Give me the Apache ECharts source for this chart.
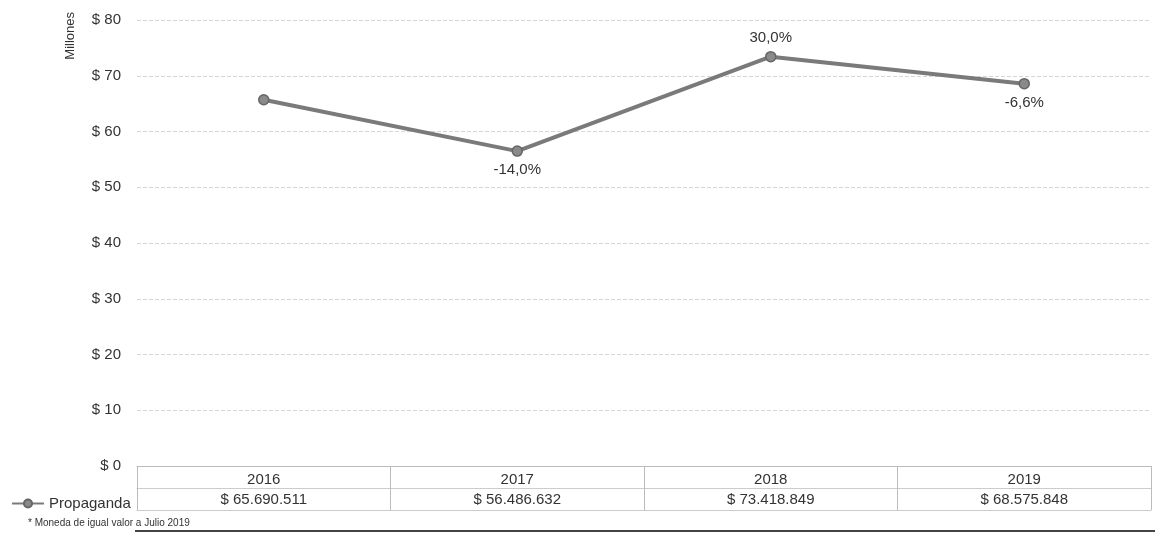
<!DOCTYPE html>
<html><head><meta charset="utf-8">
<script src="https://cdn.jsdelivr.net/npm/echarts@6/dist/echarts.min.js"></script>
<style>html,body{margin:0;padding:0;background:#fff}#c{width:1155px;height:535px}</style>
</head><body><div id="c"></div>
<script>
var categories = ['2016', '2017', '2018', '2019'];
var valuesMillions = [65.690511, 56.486632, 73.418849, 68.575848];
var valueTexts = ['$ 65.690.511', '$ 56.486.632', '$ 73.418.849', '$ 68.575.848'];
var changeLabels = ['', '-14,0%', '30,0%', '-6,6%'];
var labelPositions = ['bottom', 'bottom', 'top', 'bottom'];
var yTicks = [0, 10, 20, 30, 40, 50, 60, 70, 80];
var seriesName = 'Propaganda';
var footnote = '* Moneda de igual valor a Julio 2019';

var font = 'Liberation Sans, Arial, sans-serif';
var chart = echarts.init(document.getElementById('c'));
var data = valuesMillions.map(function (v, i) {
  return {
    value: v,
    label: { show: changeLabels[i] !== '', position: labelPositions[i], formatter: changeLabels[i] }
  };
});
chart.setOption({
  animation: false,
  textStyle: { fontFamily: font },
  grid: { left: 137, right: 4, top: 20, bottom: 69 },
  legend: {
    data: [seriesName], left: 6, top: 491, itemWidth: 32, itemHeight: 10, itemGap: 2,
    textStyle: { fontSize: 15, color: '#333', fontFamily: font }
  },
  xAxis: [
    {
      type: 'category', data: categories, position: 'bottom', boundaryGap: true,
      axisLine: { lineStyle: { color: '#bbb' } },
      axisTick: { show: true, length: 44, lineStyle: { color: '#bbb' } },
      axisLabel: { fontSize: 15, color: '#333', margin: 6 },
      splitLine: { show: false }
    },
    {
      type: 'category', data: valueTexts, position: 'bottom', offset: 22, boundaryGap: true,
      axisLine: { lineStyle: { color: '#ccc' } }, axisTick: { show: false },
      axisLabel: { fontSize: 15, color: '#333', margin: 4 }
    },
    {
      type: 'category', data: categories, position: 'bottom', offset: 44, boundaryGap: true,
      axisLine: { lineStyle: { color: '#ccc' } }, axisTick: { show: false },
      axisLabel: { show: false }
    }
  ],
  yAxis: {
    type: 'value', min: yTicks[0], max: yTicks[yTicks.length - 1], interval: 10,
    axisLine: { show: false }, axisTick: { show: false },
    axisLabel: { fontSize: 15, color: '#333', margin: 16, formatter: function (v) { return '$ ' + v; } },
    splitLine: { lineStyle: { color: '#d6d6d6', type: 'dashed' } }
  },
  graphic: [
    { type: 'text', left: 64, top: 12, rotation: Math.PI / 2,
      style: { text: 'Millones', fontSize: 13, fill: '#333', fontFamily: font } },
    { type: 'text', left: 28, top: 518,
      style: { text: footnote, fontSize: 10, fill: '#333', fontFamily: font } },
    { type: 'line', shape: { x1: 135, y1: 531, x2: 1155, y2: 531 }, style: { stroke: '#444', lineWidth: 2 } }
  ],
  series: [{
    name: seriesName, type: 'line', data: data,
    symbol: 'circle', symbolSize: 10,
    lineStyle: { color: '#7a7a7a', width: 4 },
    itemStyle: { color: '#8a8a8a', borderColor: '#666', borderWidth: 1.5 },
    label: { fontSize: 15, color: '#333', distance: 6 }
  }]
});
</script></body></html>
